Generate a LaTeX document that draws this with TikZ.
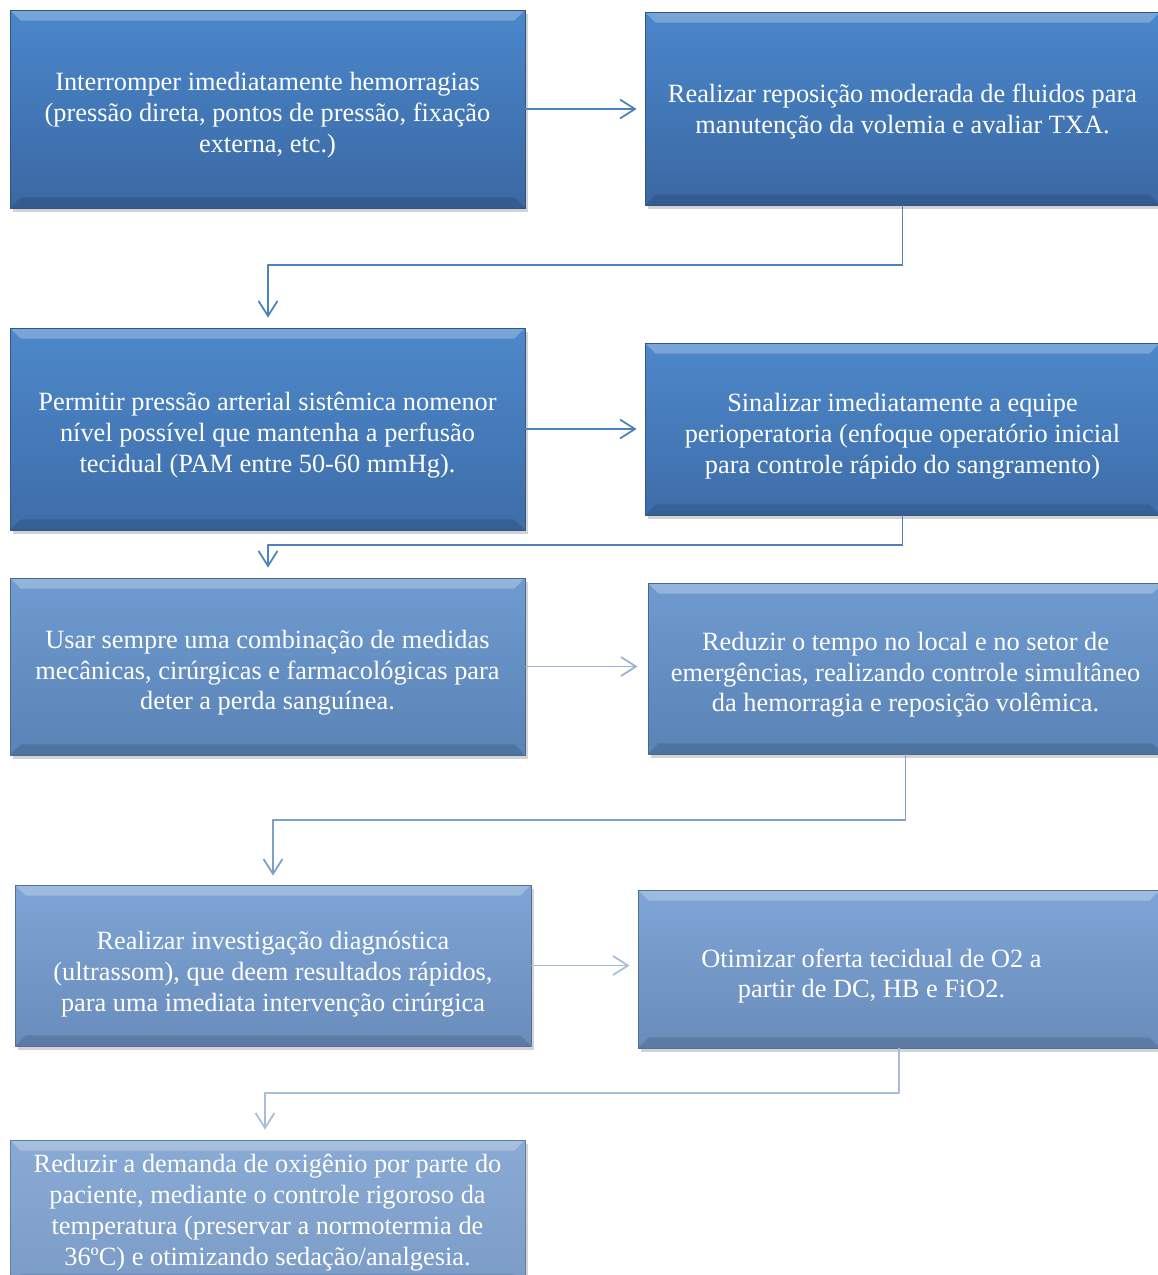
\documentclass[tikz,border=0pt]{standalone}
\usepackage{fontspec}
\setmainfont{Liberation Serif}
\usetikzlibrary{arrows.meta,shadows}

% box colours, getting lighter towards the bottom
\definecolor{azulUmTopo}{HTML}{4A87CB}
\definecolor{azulUmBase}{HTML}{3B68A3}
\definecolor{azulDoisTopo}{HTML}{4D88CA}
\definecolor{azulDoisBase}{HTML}{3E6DA9}
\definecolor{azulTresTopo}{HTML}{6F9BD0}
\definecolor{azulTresBase}{HTML}{5A83B6}
\definecolor{azulQuatroTopo}{HTML}{7EA5D6}
\definecolor{azulQuatroBase}{HTML}{698CBB}
\definecolor{azulCincoTopo}{HTML}{88AAD4}
\definecolor{azulCincoBase}{HTML}{7B9CC6}
% connector colours
\definecolor{ligaForte}{HTML}{4F81BD}
\definecolor{ligaMedia}{HTML}{7E9FCB}
\definecolor{ligaClara}{HTML}{A9BDD9}

% strut that pushes the text block a little lower in its box
\newcommand{\topo}[1][17.5pt]{\rule{0pt}{#1}}

\tikzset{
  passo/.style 2 args={draw=#2!80!black, line width=0.5pt,
    top color=#1, bottom color=#2, text=white, align=center,
    font=\fontsize{15}{17.6}\selectfont, inner sep=0pt,
    drop shadow={shadow xshift=1.5pt, shadow yshift=-2pt, opacity=.35},
    path picture={
      \fill[white, opacity=.25] (path picture bounding box.north west)
        -- (path picture bounding box.north east)
        -- ([xshift=-6pt, yshift=-6pt]path picture bounding box.north east)
        -- ([xshift=6pt, yshift=-6pt]path picture bounding box.north west) -- cycle;
      \fill[black, opacity=.12] (path picture bounding box.south west)
        -- (path picture bounding box.south east)
        -- ([xshift=-6pt, yshift=6pt]path picture bounding box.south east)
        -- ([xshift=6pt, yshift=6pt]path picture bounding box.south west) -- cycle;
    }},
  liga/.style={line width=1pt, -{Straight Barb[length=0.3cm, width=0.38cm]}}
}

\begin{document}
\begin{tikzpicture}[x=0.02cm, y=-0.02cm, line join=round]
    \useasboundingbox (0,0) rectangle (1157,1275);

    % Row 1
    \node[passo={azulUmTopo}{azulUmBase}, minimum width=10.3cm, minimum height=3.96cm] (p1) at (267.5,109)
      {\topo Interromper imediatamente hemorragias\\(pressão direta, pontos de pressão, fixação\\externa, etc.)};
    \node[passo={azulUmTopo}{azulUmBase}, minimum width=10.3cm, minimum height=3.86cm] (p2) at (902.5,108.5)
      {\topo[14.5pt]Realizar reposição moderada de fluidos para\\manutenção da volemia e avaliar TXA.};

    % Row 2
    \node[passo={azulDoisTopo}{azulDoisBase}, minimum width=10.3cm, minimum height=4.04cm] (p3) at (267.5,429)
      {\topo Permitir pressão arterial sistêmica nomenor\\nível possível que mantenha a perfusão\\tecidual (PAM entre 50-60 mmHg).};
    \node[passo={azulDoisTopo}{azulDoisBase}, minimum width=10.3cm, minimum height=3.44cm] (p4) at (902.5,429)
      {\topo[18.5pt]Sinalizar imediatamente a equipe\\perioperatoria (enfoque operatório inicial\\para controle rápido do sangramento)};

    % Row 3
    \node[passo={azulTresTopo}{azulTresBase}, minimum width=10.3cm, minimum height=3.54cm] (p5) at (267.5,666.5)
      {\topo Usar sempre uma combinação de medidas\\mecânicas, cirúrgicas e farmacológicas para\\deter a perda sanguínea.};
    \node[passo={azulTresTopo}{azulTresBase}, minimum width=10.3cm, minimum height=3.42cm] (p6) at (905.5,668.5)
      {\topo Reduzir o tempo no local e no setor de\\emergências, realizando controle simultâneo\\da hemorragia e reposição volêmica.};

    % Row 4
    \node[passo={azulQuatroTopo}{azulQuatroBase}, minimum width=10.32cm, minimum height=3.22cm] (p7) at (273,965.5)
      {\topo[20pt]Realizar investigação diagnóstica\\(ultrassom), que deem resultados rápidos,\\para uma imediata intervenção cirúrgica};
    \node[passo={azulQuatroTopo}{azulQuatroBase}, minimum width=10.44cm, minimum height=3.16cm] (p8) at (899,969)
      {\topo[18.5pt]Otimizar oferta tecidual de O2 a\hspace*{1.1cm}\\partir de DC, HB e FiO2.\hspace*{1.1cm}};

    % Row 5 (runs off the page)
    \node[passo={azulCincoTopo}{azulCincoBase}, minimum width=10.3cm, minimum height=2.9cm] (p9) at (267.5,1212.5)
      {Reduzir a demanda de oxigênio por parte do\\paciente, mediante o controle rigoroso da\\temperatura (preservar a normotermia de\\36ºC) e otimizando sedação/analgesia.};

    % Elbow points between rows
    \coordinate (c23) at (268,265);
    \coordinate (c45) at (268,545);
    \coordinate (c67) at (273,820);
    \coordinate (c89) at (265,1093);

    % Horizontal arrows
    \draw[liga, ligaForte, shorten >=0.16cm] (p1.east) -- (p1.east -| p2.west);
    \draw[liga, ligaForte, shorten >=0.16cm] (p3.east) -- (p3.east -| p4.west);
    \draw[liga, ligaMedia!80, shorten >=0.2cm] (p5.east) -- (p5.east -| p6.west);
    \draw[liga, ligaClara, shorten >=0.16cm] (p7.east) -- (p7.east -| p8.west);

    % Arrows down to the next row
    \draw[liga, ligaForte, shorten >=0.2cm] (p2.south) |- (c23) -- (c23 |- p3.north);
    \draw[liga, ligaForte, shorten >=0.2cm] (p4.south) |- (c45) -- (c45 |- p5.north);
    \draw[liga, ligaMedia, shorten >=0.18cm] (p6.south) |- (c67) -- (c67 |- p7.north);
    \draw[liga, ligaClara, shorten >=0.2cm] (p8.south) |- (c89) -- (c89 |- p9.north);
\end{tikzpicture}
\end{document}
